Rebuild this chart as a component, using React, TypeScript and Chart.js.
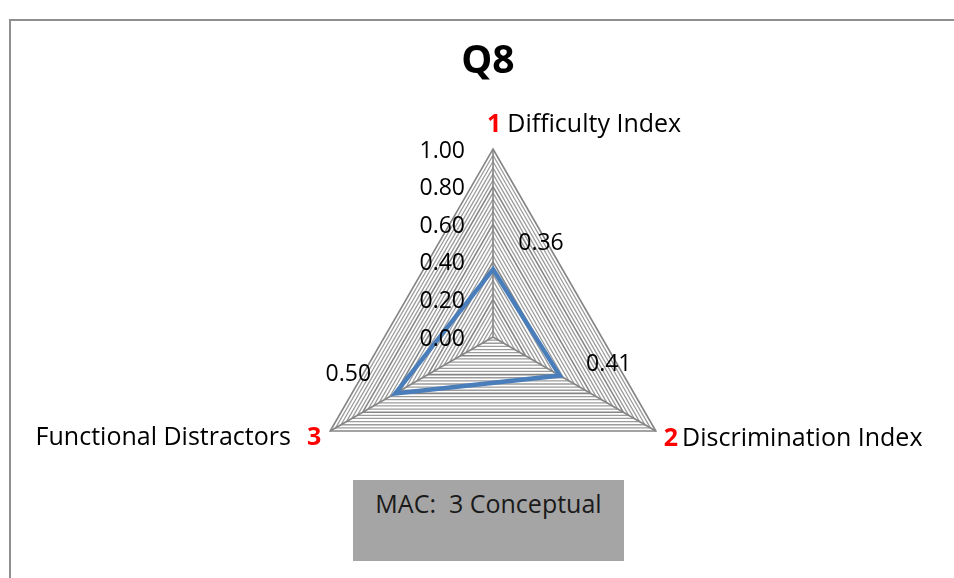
import React, { useEffect, useRef } from "react";
import { Chart, registerables } from "chart.js";

Chart.register(...registerables);

const chartTitle = "Q8";
const categories = ["Difficulty Index", "Discrimination Index", "Functional Distractors"];
const categoryNumbers = ["1", "2", "3"];
const values = [0.36, 0.41, 0.6];
const valueLabels = ["0.36", "0.41", "0.50"];
const tickValues = [0, 0.2, 0.4, 0.6, 0.8, 1.0];
const tickLabels = ["0.00", "0.20", "0.40", "0.60", "0.80", "1.00"];
const boxText = "MAC:  3 Conceptual";

const FONT = "'Open Sans', sans-serif";

const isMajor = (v: number) => Math.abs(v * 5 - Math.round(v * 5)) < 1e-6;

const textPlugin = {
  id: "excelText",
  afterDraw(chart: any) {
    const s = chart.scales.r;
    const ctx = chart.ctx;
    ctx.save();
    // title
    ctx.fillStyle = "#000";
    ctx.font = `bold 39px ${FONT}`;
    ctx.textAlign = "center";
    ctx.textBaseline = "middle";
    ctx.fillText(chartTitle, s.xCenter - 5, 62);

    // tick labels
    ctx.font = `23px ${FONT}`;
    ctx.textAlign = "right";
    tickValues.forEach((v, i) => {
      const y = s.yCenter - s.getDistanceFromCenterForValue(v);
      ctx.fillText(tickLabels[i], s.xCenter - 28, y + 2);
    });

    // point labels
    const numFont = `bold 25px ${FONT}`;
    const txtFont = `25px ${FONT}`;
    categories.forEach((label, i) => {
      const p = s.getPointPosition(i, s.drawingArea);
      ctx.textBaseline = "middle";
      if (i === 0) {
        const y = p.y - 24;
        ctx.textAlign = "left";
        ctx.font = numFont;
        ctx.fillStyle = "#ff0000";
        const x0 = p.x - 6;
        ctx.fillText(categoryNumbers[i], x0, y);
        const w = ctx.measureText(categoryNumbers[i]).width;
        ctx.font = txtFont;
        ctx.fillStyle = "#000";
        ctx.fillText(label, x0 + w + 6, y);
      } else if (i === 1) {
        const y = p.y + 8;
        ctx.textAlign = "left";
        ctx.font = numFont;
        ctx.fillStyle = "#ff0000";
        const x0 = p.x + 8;
        ctx.fillText(categoryNumbers[i], x0, y);
        const w = ctx.measureText(categoryNumbers[i]).width;
        ctx.font = txtFont;
        ctx.fillStyle = "#000";
        ctx.fillText(label, x0 + w + 4, y);
      } else {
        const y = p.y + 7;
        ctx.textAlign = "right";
        ctx.font = numFont;
        ctx.fillStyle = "#ff0000";
        const x0 = p.x - 9;
        ctx.fillText(categoryNumbers[i], x0, y);
        const w = ctx.measureText(categoryNumbers[i]).width;
        ctx.font = txtFont;
        ctx.fillStyle = "#000";
        ctx.fillText(label, x0 - w - 16, y);
      }
    });

    // data labels
    const offsets = [
      [48, -27],
      [49, -12],
      [-47, -20],
    ];
    ctx.font = `23px ${FONT}`;
    ctx.fillStyle = "#000";
    ctx.textAlign = "center";
    ctx.textBaseline = "middle";
    values.forEach((v, i) => {
      const p = s.getPointPositionForValue(i, v);
      ctx.fillText(valueLabels[i], p.x + offsets[i][0], p.y + offsets[i][1] + 1);
    });
    ctx.restore();
  },
};

export default function App() {
  const ref = useRef<HTMLCanvasElement>(null);

  useEffect(() => {
    if (!ref.current) return;
    const chart = new Chart(ref.current, {
      type: "radar",
      data: {
        labels: categories,
        datasets: [
          {
            data: values,
            borderColor: "#4a7ebb",
            borderWidth: 4.5,
            borderJoinStyle: "miter",
            fill: false,
            pointRadius: 0,
            pointHoverRadius: 0,
            tension: 0,
          },
        ],
      },
      options: {
        responsive: false,
        animation: false,
        layout: { padding: { left: 305, right: 272, top: 149, bottom: 52 } },
        plugins: {
          legend: { display: false },
          title: { display: false },
          tooltip: { enabled: false },
        },
        scales: {
          r: {
            min: 0,
            max: 1,
            ticks: { display: false, count: 31 },
            pointLabels: { display: false },
            angleLines: { color: "#858585", lineWidth: 1.6 },
            grid: {
              color: (c: any) => (c.tick && isMajor(c.tick.value) ? "#858585" : "#9c9c9c"),
              lineWidth: (c: any) => (c.tick && isMajor(c.tick.value) ? 1.6 : 1.3),
            },
          },
        },
      },
      plugins: [textPlugin],
    });
    return () => chart.destroy();
  }, []);

  return (
    <div
      style={{
        position: "fixed",
        left: 0,
        top: 0,
        width: 954,
        height: 578,
        overflow: "hidden",
        background: "#fff",
      }}
    >
      <div
        style={{
          position: "absolute",
          left: 9,
          top: 19,
          width: 2000,
          height: 2000,
          borderLeft: "2px solid #8f8f8f",
          borderTop: "2px solid #8f8f8f",
        }}
      />
      <canvas ref={ref} width={954} height={578} style={{ position: "absolute", left: 0, top: 0 }} />
      <div
        style={{
          position: "absolute",
          left: 353,
          top: 480,
          width: 271,
          height: 81,
          background: "#a5a5a5",
          boxSizing: "border-box",
          paddingTop: 8,
          textAlign: "center",
          fontFamily: FONT,
          fontSize: 25,
          lineHeight: "30px",
          color: "#1a1a1a",
          whiteSpace: "pre",
        }}
      >
        {boxText}
      </div>
    </div>
  );
}
